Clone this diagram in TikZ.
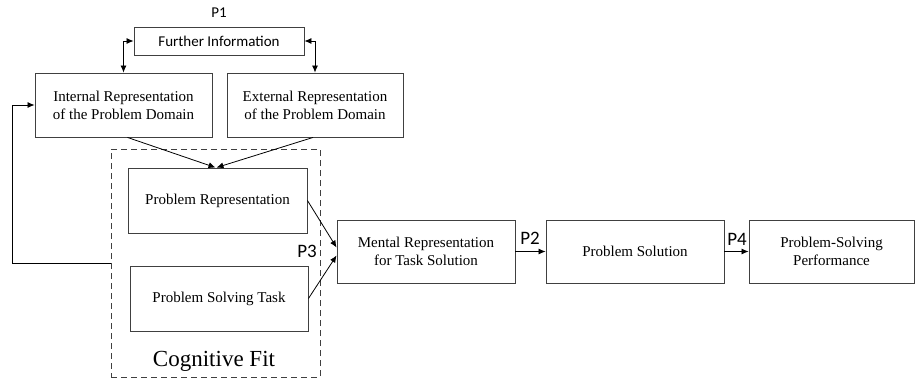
\documentclass[tikz,border=0pt]{standalone}
\usepackage{fontspec}
\setmainfont{Liberation Serif}
\newfontfamily\calib{Carlito}
\usetikzlibrary{arrows.meta,positioning,fit}
\begin{document}
\begin{tikzpicture}[x=1pt, y=-1pt,
  box/.style={draw=black!75, line width=0.9pt, align=center, inner sep=0pt,
    font=\fontsize{15}{18}\selectfont},
  plabel/.style={font=\calib\fontsize{19}{20}\selectfont},
  link/.style={line width=0.8pt, -{Latex[length=7pt,width=6pt]}}]
  \useasboundingbox (0,0) rectangle (916,378);
  \node[box, minimum width=170pt, minimum height=28pt, font=\calib\fontsize{15}{16}\selectfont] (further) at (219,41) {Further Information};
  \node[plabel, font=\calib\fontsize{15}{16}\selectfont] (p1) at (219,13) {P1};
  \node[box, minimum width=177pt, minimum height=64pt] (internal) at (123.5,105) {Internal Representation\\of the Problem Domain};
  \node[box, minimum width=176pt, minimum height=64pt] (external) at (315,105) {External Representation\\of the Problem Domain};
  \node[box, minimum width=179pt, minimum height=65pt] (probrep) at (217.5,200.5) {Problem Representation};
  \node[box, minimum width=178pt, minimum height=65pt] (task) at (219,298.5) {Problem Solving Task};
  \node[font=\fontsize{23}{26}\selectfont] (cogfit) at (214,361) {Cognitive Fit};
  \node[draw=black!75, line width=0.8pt, dash pattern=on 6pt off 4pt, minimum width=209pt, minimum height=228pt, inner sep=0pt] (cogbox) at (215.5,263) {};
  \node[box, minimum width=178pt, minimum height=63pt] (mental) at (426,251.5) {Mental Representation\\for Task Solution};
  \node[box, minimum width=178pt, minimum height=63pt] (solution) at (635,251.5) {Problem Solution};
  \node[box, minimum width=165pt, minimum height=63pt] (perf) at (831.5,251.5) {Problem-Solving\\Performance};
  \node[plabel] (p3) at (307,251) {P3};
  \node[plabel] (p2) at (530,238) {P2};
  \node[plabel] (p4) at (737,239) {P4};
  \coordinate (loop) at (12,263);
  \draw[link, {Latex[length=7pt,width=6pt]}-{Latex[length=7pt,width=6pt]}] (further.west) -| (internal.north);
  \draw[link, {Latex[length=7pt,width=6pt]}-{Latex[length=7pt,width=6pt]}] (further.east) -| (external.north);
  \draw[link] ([xshift=4pt]internal.south) -- ([xshift=-2pt]probrep.north);
  \draw[link] ([xshift=-2pt]external.south) -- ([xshift=-1pt]probrep.north);
  \draw[link] (probrep.east) -- ([yshift=4pt]mental.west);
  \draw[link] (task.east) -- ([yshift=-4pt]mental.west);
  \draw[link] (mental) -- (solution);
  \draw[link] (solution) -- (perf);
  \draw[link] (cogbox.west) -- (loop) |- (internal.west);
\end{tikzpicture}
\end{document}
